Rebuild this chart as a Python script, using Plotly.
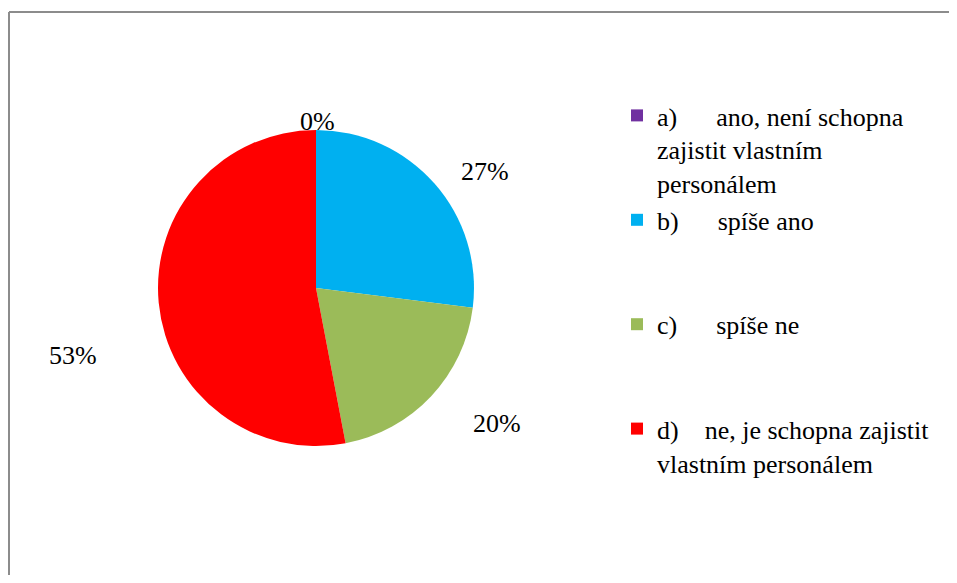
import plotly.graph_objects as go

# odpovědi a podíly (%)
nb = "\u00a0"
labels = [
    "a)" + nb * 6 + "ano, není schopna<br>zajistit vlastním<br>personálem",
    "b)" + nb * 6 + "spíše ano<br>" + nb + "<br>" + nb,
    "c)" + nb * 6 + "spíše ne<br>" + nb + "<br>" + nb,
    "d)" + nb * 4 + "ne, je schopna zajistit<br>vlastním personálem",
]
values = [0, 27, 20, 53]
colors = ["#7030A0", "#00B0F0", "#9BBB59", "#FF0000"]

# pozice popisků procent v pixelech okna
label_pos = [(298, 105), (485, 155), (497, 440), (47, 355)]

# stránka má okraj 8 px, figura je proto menší a souřadnice posunuté
OFF = 8
W, H = 957 - 2 * OFF, 583 - 2 * OFF


def X(px_):
    return (px_ - OFF) / W


def Y(py_):
    return 1 - (py_ - OFF) / H


SERIF = "Liberation Serif"

fig = go.Figure(go.Pie(
    labels=labels, values=values, sort=False, direction="clockwise", rotation=0,
    marker=dict(colors=colors, line=dict(width=0)),
    textinfo="none", hoverinfo="label+percent",
    domain=dict(x=[X(158), X(474)], y=[Y(446), Y(130)]),
))

for v, (px_, py_) in zip(values, label_pos):
    fig.add_annotation(x=X(px_), y=Y(py_), xref="paper", yref="paper",
                       text=f"{v}%", showarrow=False,
                       font=dict(family=SERIF, size=26, color="black"))

# rámeček grafu (jen horní a levá hrana jsou v záběru)
fig.add_shape(type="line", xref="paper", yref="paper",
              x0=X(9), x1=1.0, y0=Y(12), y1=Y(12),
              line=dict(color="#8c8c8c", width=2))
fig.add_shape(type="line", xref="paper", yref="paper",
              x0=X(9), x1=X(9), y0=0, y1=Y(12),
              line=dict(color="#8c8c8c", width=2))

fig.update_layout(
    width=W, height=H, margin=dict(l=0, r=0, t=0, b=0),
    paper_bgcolor="white", plot_bgcolor="white",
    font=dict(family=SERIF, size=26, color="black"),
    legend=dict(x=X(617), y=Y(92), xanchor="left", yanchor="top",
                valign="top", font=dict(family=SERIF, size=26, color="black"),
                traceorder="normal"),
    showlegend=True,
)

fig.write_html("out.html")
